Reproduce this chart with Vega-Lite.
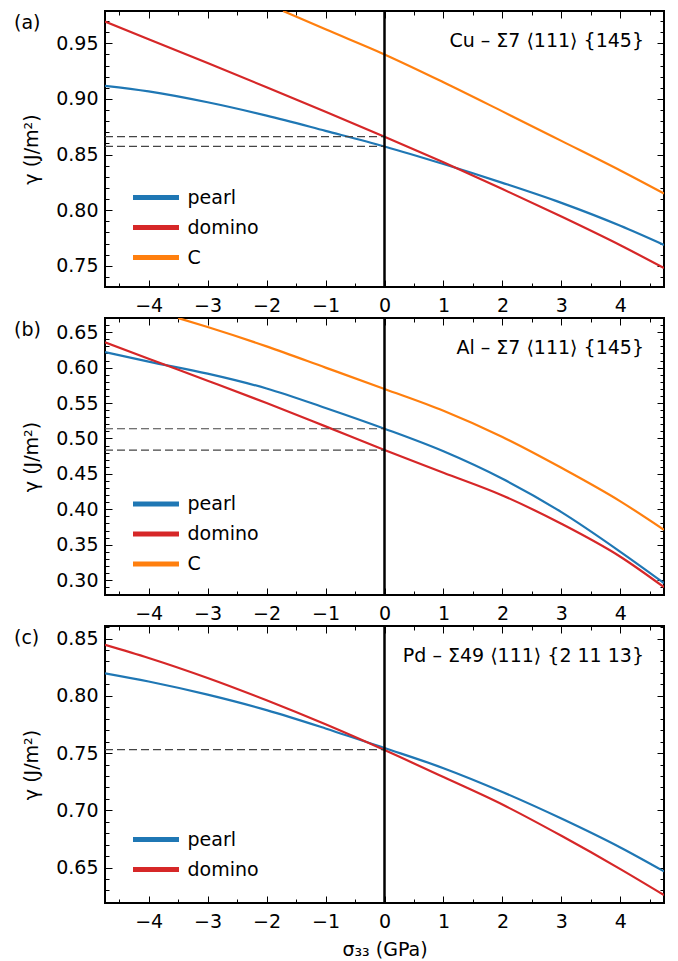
{
  "$schema": "https://vega.github.io/schema/vega-lite/v6.json",
  "padding": {"left": 13, "top": 8, "right": 5, "bottom": 0},
  "autosize": {"type": "pad"},
  "spacing": -1,
  "config": {
    "font": "DejaVu Sans",
    "view": {"stroke": "black", "strokeWidth": 2},
    "axis": {"grid": false, "domain": false, "tickColor": "black", "tickWidth": 1, "labelFontSize": 19, "titleFontSize": 19, "labelColor": "black", "titleColor": "black", "titleFontWeight": "normal", "labelFlush": false, "labelOverlap": false},
    "legend": {"padding": 0, "labelFontSize": 19, "labelColor": "black", "symbolType": "M-3,0H3", "symbolSize": 235, "symbolStrokeWidth": 5, "labelOffset": 21, "rowPadding": 9, "orient": "none", "legendX": 40.5}
  },
  "datasets": {
    "cu": [
      {"model": "pearl", "sigma": -4.74, "gamma": 0.9118}, {"model": "pearl", "sigma": -4, "gamma": 0.9068}, {"model": "pearl", "sigma": -3, "gamma": 0.897}, {"model": "pearl", "sigma": -2, "gamma": 0.885}, {"model": "pearl", "sigma": -1, "gamma": 0.8713}, {"model": "pearl", "sigma": 0, "gamma": 0.8573}, {"model": "pearl", "sigma": 1, "gamma": 0.8415}, {"model": "pearl", "sigma": 2, "gamma": 0.8246}, {"model": "pearl", "sigma": 3, "gamma": 0.8066}, {"model": "pearl", "sigma": 4, "gamma": 0.786}, {"model": "pearl", "sigma": 4.74, "gamma": 0.7688},
      {"model": "domino", "sigma": -4.74, "gamma": 0.9695}, {"model": "domino", "sigma": -4, "gamma": 0.9537}, {"model": "domino", "sigma": -3, "gamma": 0.9322}, {"model": "domino", "sigma": -2, "gamma": 0.9105}, {"model": "domino", "sigma": -1, "gamma": 0.8885}, {"model": "domino", "sigma": 0, "gamma": 0.8661}, {"model": "domino", "sigma": 1, "gamma": 0.843}, {"model": "domino", "sigma": 2, "gamma": 0.819}, {"model": "domino", "sigma": 3, "gamma": 0.7943}, {"model": "domino", "sigma": 4, "gamma": 0.7685}, {"model": "domino", "sigma": 4.74, "gamma": 0.748},
      {"model": "C", "sigma": -1.72, "gamma": 0.979}, {"model": "C", "sigma": -1, "gamma": 0.9625}, {"model": "C", "sigma": 0, "gamma": 0.94}, {"model": "C", "sigma": 1, "gamma": 0.915}, {"model": "C", "sigma": 2, "gamma": 0.8888}, {"model": "C", "sigma": 3, "gamma": 0.8623}, {"model": "C", "sigma": 4, "gamma": 0.8357}, {"model": "C", "sigma": 4.74, "gamma": 0.815}
    ],
    "cuRef": [{"x0": -4.74, "x1": 0, "gamma": 0.8661}, {"x0": -4.74, "x1": 0, "gamma": 0.8573}],
    "al": [
      {"model": "pearl", "sigma": -4.74, "gamma": 0.622}, {"model": "pearl", "sigma": -4, "gamma": 0.6085}, {"model": "pearl", "sigma": -3, "gamma": 0.5915}, {"model": "pearl", "sigma": -2, "gamma": 0.5705}, {"model": "pearl", "sigma": -1, "gamma": 0.543}, {"model": "pearl", "sigma": 0, "gamma": 0.5137}, {"model": "pearl", "sigma": 1, "gamma": 0.4818}, {"model": "pearl", "sigma": 2, "gamma": 0.443}, {"model": "pearl", "sigma": 3, "gamma": 0.396}, {"model": "pearl", "sigma": 4, "gamma": 0.34}, {"model": "pearl", "sigma": 4.74, "gamma": 0.2958},
      {"model": "domino", "sigma": -4.74, "gamma": 0.6357}, {"model": "domino", "sigma": -4, "gamma": 0.6125}, {"model": "domino", "sigma": -3, "gamma": 0.5815}, {"model": "domino", "sigma": -2, "gamma": 0.55}, {"model": "domino", "sigma": -1, "gamma": 0.517}, {"model": "domino", "sigma": 0, "gamma": 0.4836}, {"model": "domino", "sigma": 1, "gamma": 0.4516}, {"model": "domino", "sigma": 2, "gamma": 0.4195}, {"model": "domino", "sigma": 3, "gamma": 0.3795}, {"model": "domino", "sigma": 4, "gamma": 0.333}, {"model": "domino", "sigma": 4.74, "gamma": 0.29},
      {"model": "C", "sigma": -3.5, "gamma": 0.67}, {"model": "C", "sigma": -3, "gamma": 0.6573}, {"model": "C", "sigma": -2, "gamma": 0.63}, {"model": "C", "sigma": -1, "gamma": 0.6}, {"model": "C", "sigma": 0, "gamma": 0.5698}, {"model": "C", "sigma": 1, "gamma": 0.539}, {"model": "C", "sigma": 2, "gamma": 0.502}, {"model": "C", "sigma": 3, "gamma": 0.4585}, {"model": "C", "sigma": 4, "gamma": 0.4112}, {"model": "C", "sigma": 4.74, "gamma": 0.371}
    ],
    "alRef": [{"x0": -4.74, "x1": 0, "gamma": 0.5137}, {"x0": -4.74, "x1": 0, "gamma": 0.4836}],
    "pd": [
      {"model": "pearl", "sigma": -4.74, "gamma": 0.8197}, {"model": "pearl", "sigma": -4, "gamma": 0.8125}, {"model": "pearl", "sigma": -3, "gamma": 0.801}, {"model": "pearl", "sigma": -2, "gamma": 0.7875}, {"model": "pearl", "sigma": -1, "gamma": 0.7715}, {"model": "pearl", "sigma": 0, "gamma": 0.7544}, {"model": "pearl", "sigma": 1, "gamma": 0.7368}, {"model": "pearl", "sigma": 2, "gamma": 0.716}, {"model": "pearl", "sigma": 3, "gamma": 0.6928}, {"model": "pearl", "sigma": 4, "gamma": 0.6675}, {"model": "pearl", "sigma": 4.74, "gamma": 0.6466},
      {"model": "domino", "sigma": -4.74, "gamma": 0.8446}, {"model": "domino", "sigma": -4, "gamma": 0.8331}, {"model": "domino", "sigma": -3, "gamma": 0.8156}, {"model": "domino", "sigma": -2, "gamma": 0.7961}, {"model": "domino", "sigma": -1, "gamma": 0.7751}, {"model": "domino", "sigma": 0, "gamma": 0.7526}, {"model": "domino", "sigma": 1, "gamma": 0.729}, {"model": "domino", "sigma": 2, "gamma": 0.705}, {"model": "domino", "sigma": 3, "gamma": 0.6777}, {"model": "domino", "sigma": 4, "gamma": 0.6486}, {"model": "domino", "sigma": 4.74, "gamma": 0.6259}
    ],
    "pdRef": [{"x0": -4.74, "x1": 0, "gamma": 0.753}]
  },
  "resolve": {"scale": {"color": "independent"}, "legend": {"color": "independent"}},
  "vconcat": [
    {
      "width": 559, "height": 276,
      "resolve": {"axis": {"x": "independent", "y": "independent"}},
      "layer": [
        {
          "data": {"name": "cu"},
          "mark": {"type": "line", "strokeWidth": 2.2, "clip": true, "interpolate": "monotone"},
          "encoding": {
            "x": {"field": "sigma", "type": "quantitative", "scale": {"domain": [-4.74, 4.74], "nice": false, "zero": false}, "axis": {"orient": "bottom", "values": [-4, -3, -2, -1, 0, 1, 2, 3, 4], "format": "d", "tickSize": -7, "labelPadding": 16, "title": null}},
            "y": {"field": "gamma", "type": "quantitative", "scale": {"domain": [0.731, 0.979], "nice": false, "zero": false}, "axis": {"orient": "left", "values": [0.75, 0.8, 0.85, 0.9, 0.95], "format": ".2f", "tickSize": -7, "labelPadding": 14, "title": "γ (J/m²)", "titlePadding": 14}},
            "color": {"field": "model", "type": "nominal", "scale": {"domain": ["pearl", "domino", "C"], "range": ["#1f77b4", "#d62728", "#ff7f0e"]}, "legend": {"title": null, "legendY": 176}}
          }
        },
        {
          "data": {"name": "cuRef"},
          "mark": {"type": "rule", "color": "#444", "strokeWidth": 1.2, "strokeDash": [8, 4]},
          "encoding": {
            "x": {"field": "x0", "type": "quantitative", "scale": {"domain": [-4.74, 4.74], "nice": false, "zero": false}, "axis": {"orient": "bottom", "values": [-4.5, -3.5, -2.5, -1.5, -0.5, 0.5, 1.5, 2.5, 3.5, 4.5], "labels": false, "tickSize": -4, "title": null}},
            "x2": {"field": "x1"},
            "y": {"field": "gamma", "type": "quantitative", "scale": {"domain": [0.731, 0.979], "nice": false, "zero": false}, "axis": {"orient": "left", "values": [0.74, 0.76, 0.77, 0.78, 0.79, 0.81, 0.82, 0.83, 0.84, 0.86, 0.87, 0.88, 0.89, 0.91, 0.92, 0.93, 0.94, 0.96, 0.97], "labels": false, "tickSize": -4, "title": null}}
          }
        },
        {
          "data": {"values": [{"s": 0}]},
          "mark": {"type": "rule", "color": "black", "strokeWidth": 2.5},
          "encoding": {
            "x": {"field": "s", "type": "quantitative", "scale": {"domain": [-4.74, 4.74], "nice": false, "zero": false}, "axis": {"orient": "top", "values": [-4, -3, -2, -1, 0, 1, 2, 3, 4], "labels": false, "tickSize": -7, "title": null}}
          }
        },
        {
          "data": {"values": [{"label": "Cu – Σ7 ⟨111⟩ {145}"}]},
          "mark": {"type": "text", "align": "right", "baseline": "middle", "dx": -20, "dy": 30, "fontSize": 19, "color": "black"},
          "encoding": {
            "x": {"datum": 4.74, "type": "quantitative", "scale": {"domain": [-4.74, 4.74], "nice": false, "zero": false}, "axis": {"orient": "top", "values": [-4.5, -3.5, -2.5, -1.5, -0.5, 0.5, 1.5, 2.5, 3.5, 4.5], "labels": false, "tickSize": -4, "title": null}},
            "y": {"datum": 0.979, "type": "quantitative", "scale": {"domain": [0.731, 0.979], "nice": false, "zero": false}, "axis": {"orient": "right", "values": [0.75, 0.8, 0.85, 0.9, 0.95], "labels": false, "tickSize": -7, "title": null}},
            "text": {"field": "label"}
          }
        },
        {
          "data": {"values": [{"label": "(a)"}]},
          "mark": {"type": "text", "align": "left", "baseline": "middle", "dx": -91, "dy": 12, "fontSize": 19, "color": "black"},
          "encoding": {
            "x": {"datum": -4.74, "type": "quantitative", "scale": {"domain": [-4.74, 4.74], "nice": false, "zero": false}, "axis": null},
            "y": {"datum": 0.979, "type": "quantitative", "scale": {"domain": [0.731, 0.979], "nice": false, "zero": false}, "axis": {"orient": "right", "values": [0.74, 0.76, 0.77, 0.78, 0.79, 0.81, 0.82, 0.83, 0.84, 0.86, 0.87, 0.88, 0.89, 0.91, 0.92, 0.93, 0.94, 0.96, 0.97], "labels": false, "tickSize": -4, "title": null}},
            "text": {"field": "label"}
          }
        }
      ]
    },
    {
      "width": 559, "height": 277,
      "resolve": {"axis": {"x": "independent", "y": "independent"}},
      "layer": [
        {
          "data": {"name": "al"},
          "mark": {"type": "line", "strokeWidth": 2.2, "clip": true, "interpolate": "monotone"},
          "encoding": {
            "x": {"field": "sigma", "type": "quantitative", "scale": {"domain": [-4.74, 4.74], "nice": false, "zero": false}, "axis": {"orient": "bottom", "values": [-4, -3, -2, -1, 0, 1, 2, 3, 4], "format": "d", "tickSize": -7, "labelPadding": 16, "title": null}},
            "y": {"field": "gamma", "type": "quantitative", "scale": {"domain": [0.279, 0.67], "nice": false, "zero": false}, "axis": {"orient": "left", "values": [0.3, 0.35, 0.4, 0.45, 0.5, 0.55, 0.6, 0.65], "format": ".2f", "tickSize": -7, "labelPadding": 14, "title": "γ (J/m²)", "titlePadding": 14}},
            "color": {"field": "model", "type": "nominal", "scale": {"domain": ["pearl", "domino", "C"], "range": ["#1f77b4", "#d62728", "#ff7f0e"]}, "legend": {"title": null, "legendY": 175.5}}
          }
        },
        {
          "data": {"name": "alRef"},
          "mark": {"type": "rule", "color": "#444", "strokeWidth": 1.2, "strokeDash": [8, 4]},
          "encoding": {
            "x": {"field": "x0", "type": "quantitative", "scale": {"domain": [-4.74, 4.74], "nice": false, "zero": false}, "axis": {"orient": "bottom", "values": [-4.5, -3.5, -2.5, -1.5, -0.5, 0.5, 1.5, 2.5, 3.5, 4.5], "labels": false, "tickSize": -4, "title": null}},
            "x2": {"field": "x1"},
            "y": {"field": "gamma", "type": "quantitative", "scale": {"domain": [0.279, 0.67], "nice": false, "zero": false}, "axis": {"orient": "left", "values": [0.28, 0.29, 0.31, 0.32, 0.33, 0.34, 0.36, 0.37, 0.38, 0.39, 0.41, 0.42, 0.43, 0.44, 0.46, 0.47, 0.48, 0.49, 0.51, 0.52, 0.53, 0.54, 0.56, 0.57, 0.58, 0.59, 0.61, 0.62, 0.63, 0.64, 0.66], "labels": false, "tickSize": -4, "title": null}}
          }
        },
        {
          "data": {"values": [{"s": 0}]},
          "mark": {"type": "rule", "color": "black", "strokeWidth": 2.5},
          "encoding": {
            "x": {"field": "s", "type": "quantitative", "scale": {"domain": [-4.74, 4.74], "nice": false, "zero": false}, "axis": {"orient": "top", "values": [-4, -3, -2, -1, 0, 1, 2, 3, 4], "labels": false, "tickSize": -7, "title": null}}
          }
        },
        {
          "data": {"values": [{"label": "Al – Σ7 ⟨111⟩ {145}"}]},
          "mark": {"type": "text", "align": "right", "baseline": "middle", "dx": -20, "dy": 30, "fontSize": 19, "color": "black"},
          "encoding": {
            "x": {"datum": 4.74, "type": "quantitative", "scale": {"domain": [-4.74, 4.74], "nice": false, "zero": false}, "axis": {"orient": "top", "values": [-4.5, -3.5, -2.5, -1.5, -0.5, 0.5, 1.5, 2.5, 3.5, 4.5], "labels": false, "tickSize": -4, "title": null}},
            "y": {"datum": 0.67, "type": "quantitative", "scale": {"domain": [0.279, 0.67], "nice": false, "zero": false}, "axis": {"orient": "right", "values": [0.3, 0.35, 0.4, 0.45, 0.5, 0.55, 0.6, 0.65], "labels": false, "tickSize": -7, "title": null}},
            "text": {"field": "label"}
          }
        },
        {
          "data": {"values": [{"label": "(b)"}]},
          "mark": {"type": "text", "align": "left", "baseline": "middle", "dx": -91, "dy": 12, "fontSize": 19, "color": "black"},
          "encoding": {
            "x": {"datum": -4.74, "type": "quantitative", "scale": {"domain": [-4.74, 4.74], "nice": false, "zero": false}, "axis": null},
            "y": {"datum": 0.67, "type": "quantitative", "scale": {"domain": [0.279, 0.67], "nice": false, "zero": false}, "axis": {"orient": "right", "values": [0.28, 0.29, 0.31, 0.32, 0.33, 0.34, 0.36, 0.37, 0.38, 0.39, 0.41, 0.42, 0.43, 0.44, 0.46, 0.47, 0.48, 0.49, 0.51, 0.52, 0.53, 0.54, 0.56, 0.57, 0.58, 0.59, 0.61, 0.62, 0.63, 0.64, 0.66], "labels": false, "tickSize": -4, "title": null}},
            "text": {"field": "label"}
          }
        }
      ]
    },
    {
      "width": 559, "height": 277,
      "resolve": {"axis": {"x": "independent", "y": "independent"}},
      "layer": [
        {
          "data": {"name": "pd"},
          "mark": {"type": "line", "strokeWidth": 2.2, "clip": true, "interpolate": "monotone"},
          "encoding": {
            "x": {"field": "sigma", "type": "quantitative", "scale": {"domain": [-4.74, 4.74], "nice": false, "zero": false}, "axis": {"orient": "bottom", "values": [-4, -3, -2, -1, 0, 1, 2, 3, 4], "format": "d", "tickSize": -7, "labelPadding": 16, "title": "σ₃₃ (GPa)", "titlePadding": 9}},
            "y": {"field": "gamma", "type": "quantitative", "scale": {"domain": [0.619, 0.861], "nice": false, "zero": false}, "axis": {"orient": "left", "values": [0.65, 0.7, 0.75, 0.8, 0.85], "format": ".2f", "tickSize": -7, "labelPadding": 14, "title": "γ (J/m²)", "titlePadding": 14}},
            "color": {"field": "model", "type": "nominal", "scale": {"domain": ["pearl", "domino"], "range": ["#1f77b4", "#d62728"]}, "legend": {"title": null, "legendY": 203}}
          }
        },
        {
          "data": {"name": "pdRef"},
          "mark": {"type": "rule", "color": "#444", "strokeWidth": 1.2, "strokeDash": [8, 4]},
          "encoding": {
            "x": {"field": "x0", "type": "quantitative", "scale": {"domain": [-4.74, 4.74], "nice": false, "zero": false}, "axis": {"orient": "bottom", "values": [-4.5, -3.5, -2.5, -1.5, -0.5, 0.5, 1.5, 2.5, 3.5, 4.5], "labels": false, "tickSize": -4, "title": null}},
            "x2": {"field": "x1"},
            "y": {"field": "gamma", "type": "quantitative", "scale": {"domain": [0.619, 0.861], "nice": false, "zero": false}, "axis": {"orient": "left", "values": [0.62, 0.63, 0.64, 0.66, 0.67, 0.68, 0.69, 0.71, 0.72, 0.73, 0.74, 0.76, 0.77, 0.78, 0.79, 0.81, 0.82, 0.83, 0.84, 0.86], "labels": false, "tickSize": -4, "title": null}}
          }
        },
        {
          "data": {"values": [{"s": 0}]},
          "mark": {"type": "rule", "color": "black", "strokeWidth": 2.5},
          "encoding": {
            "x": {"field": "s", "type": "quantitative", "scale": {"domain": [-4.74, 4.74], "nice": false, "zero": false}, "axis": {"orient": "top", "values": [-4, -3, -2, -1, 0, 1, 2, 3, 4], "labels": false, "tickSize": -7, "title": null}}
          }
        },
        {
          "data": {"values": [{"label": "Pd – Σ49 ⟨111⟩ {2 11 13}"}]},
          "mark": {"type": "text", "align": "right", "baseline": "middle", "dx": -20, "dy": 30, "fontSize": 19, "color": "black"},
          "encoding": {
            "x": {"datum": 4.74, "type": "quantitative", "scale": {"domain": [-4.74, 4.74], "nice": false, "zero": false}, "axis": {"orient": "top", "values": [-4.5, -3.5, -2.5, -1.5, -0.5, 0.5, 1.5, 2.5, 3.5, 4.5], "labels": false, "tickSize": -4, "title": null}},
            "y": {"datum": 0.861, "type": "quantitative", "scale": {"domain": [0.619, 0.861], "nice": false, "zero": false}, "axis": {"orient": "right", "values": [0.65, 0.7, 0.75, 0.8, 0.85], "labels": false, "tickSize": -7, "title": null}},
            "text": {"field": "label"}
          }
        },
        {
          "data": {"values": [{"label": "(c)"}]},
          "mark": {"type": "text", "align": "left", "baseline": "middle", "dx": -91, "dy": 12, "fontSize": 19, "color": "black"},
          "encoding": {
            "x": {"datum": -4.74, "type": "quantitative", "scale": {"domain": [-4.74, 4.74], "nice": false, "zero": false}, "axis": null},
            "y": {"datum": 0.861, "type": "quantitative", "scale": {"domain": [0.619, 0.861], "nice": false, "zero": false}, "axis": {"orient": "right", "values": [0.62, 0.63, 0.64, 0.66, 0.67, 0.68, 0.69, 0.71, 0.72, 0.73, 0.74, 0.76, 0.77, 0.78, 0.79, 0.81, 0.82, 0.83, 0.84, 0.86], "labels": false, "tickSize": -4, "title": null}},
            "text": {"field": "label"}
          }
        }
      ]
    }
  ]
}
